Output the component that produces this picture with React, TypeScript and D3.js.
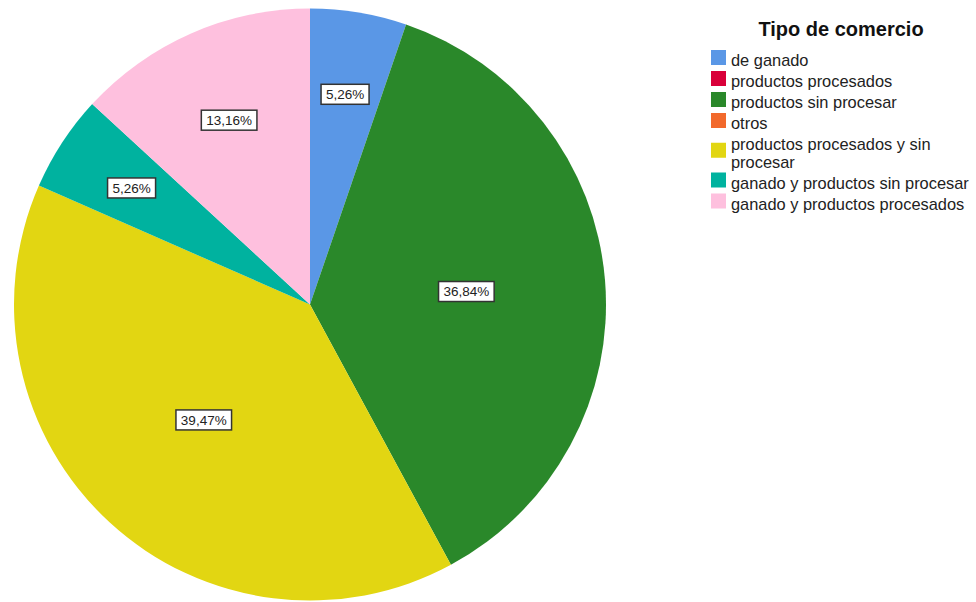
import React from "react";
import * as d3 from "d3";

const categories = [
  "de ganado",
  "productos procesados",
  "productos sin procesar",
  "otros",
  "productos procesados y sin procesar",
  "ganado y productos sin procesar",
  "ganado y productos procesados",
];
const legendLines = [
  ["de ganado"],
  ["productos procesados"],
  ["productos sin procesar"],
  ["otros"],
  ["productos procesados y sin", "procesar"],
  ["ganado y productos sin procesar"],
  ["ganado y productos procesados"],
];
const values = [5.26, 0, 36.84, 0, 39.47, 5.26, 13.16];
const labels = ["5,26%", "", "36,84%", "", "39,47%", "5,26%", "13,16%"];
const colors = ["#5a97e6", "#d9003a", "#2a882a", "#f2692c", "#e2d612", "#00b29f", "#fec0de"];

const W = 976, H = 602;
const cx = 310, cy = 304.5, R = 296;
const LINE = 17.5;

export default function App() {
  const pie = d3.pie<number>().sort(null).value((d) => d)(values);
  const arc = d3.arc<d3.PieArcDatum<number>>().innerRadius(0).outerRadius(R);
  const labelFrac = (v: number) => (v > 30 ? 0.53 : v > 10 ? 0.68 : 0.72);
  const font = "'Liberation Sans', Arial, sans-serif";

  let y = 66;
  const legendRows = legendLines.map((lines, i) => {
    const row = { i, lines, base: y };
    y += 21 + (lines.length - 1) * LINE;
    return row;
  });

  return (
    <svg width={W} height={H} style={{ position: "absolute", left: 0, top: 0, background: "#fff" }}>
      <g transform={`translate(${cx},${cy})`}>
        {pie.map((p, i) =>
          p.value > 0 ? <path key={i} d={arc(p) || ""} fill={colors[i]} /> : null
        )}
        {pie.map((p, i) => {
          if (p.value <= 0) return null;
          const f = labelFrac(p.value) * R;
          const la = d3.arc<d3.PieArcDatum<number>>().innerRadius(f).outerRadius(f);
          const [x, yy] = la.centroid(p);
          const tw = labels[i].length * 7.6 + 2;
          return (
            <g key={"l" + i} transform={`translate(${x},${yy})`}>
              <rect x={-tw / 2 - 4} y={-10} width={tw + 8} height={20} fill="#fff" stroke="#333" strokeWidth={1.5} />
              <text textAnchor="middle" dy="0.36em" fontSize={13.5} fontFamily={font} fill="#222">
                {labels[i]}
              </text>
            </g>
          );
        })}
      </g>
      <text x={841} y={36} textAnchor="middle" fontSize={20} fontWeight="bold" fontFamily={font} fill="#111">
        Tipo de comercio
      </text>
      {legendRows.map((r) => {
        const centerBase = r.base + ((r.lines.length - 1) * LINE) / 2;
        return (
          <g key={r.i}>
            <rect x={711} y={centerBase - 16} width={15} height={15} fill={colors[r.i]} />
            {r.lines.map((ln, k) => (
              <text key={k} x={731} y={r.base + k * LINE} fontSize={16.4} fontFamily={font} fill="#222">
                {ln}
              </text>
            ))}
          </g>
        );
      })}
    </svg>
  );
}
